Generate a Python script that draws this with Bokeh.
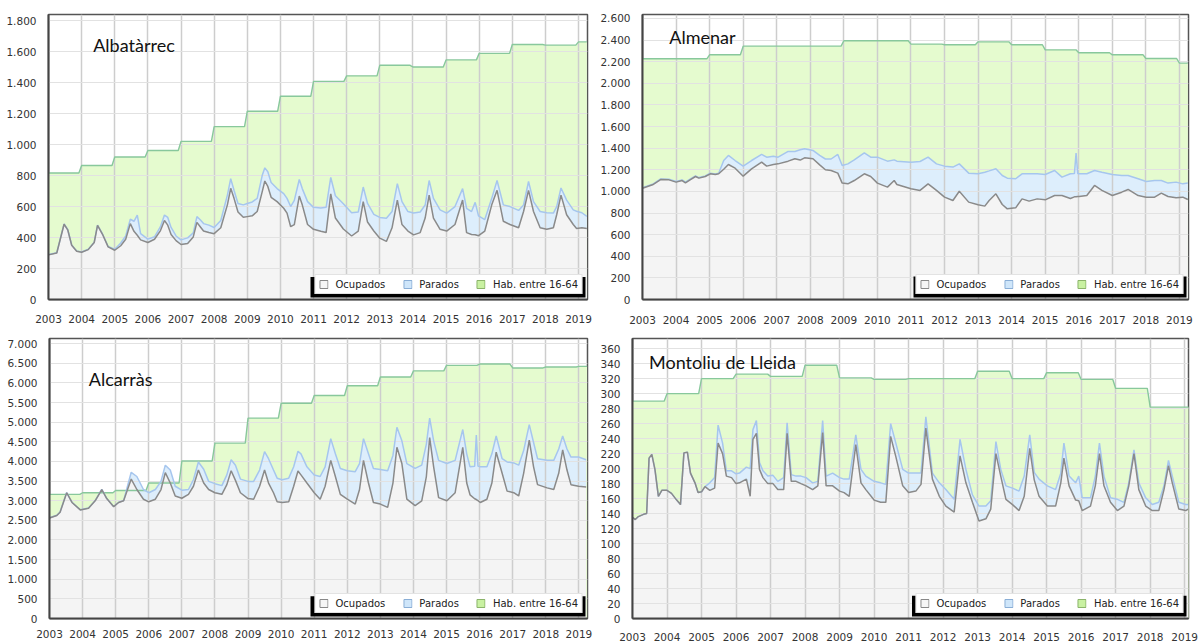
import numpy as np
from bokeh.plotting import figure
from bokeh.models import Range1d, FixedTicker, Legend, LegendItem, Label, BoxAnnotation
from bokeh.layouts import row, column
from bokeh.embed import file_html
from bokeh.resources import INLINE

years = list(range(2003, 2020))
legend_labels = ["Ocupados", "Parados", "Hab. entre 16-64"]

# ---------------- Albatàrrec ----------------
alb_hab = [817, 865, 920, 962, 1021, 1116, 1215, 1312, 1408, 1444, 1512, 1501, 1547, 1589, 1646, 1642, 1663]
alb_x = [2003.00, 2003.25, 2003.47, 2003.58, 2003.70, 2003.85,
         2004.00, 2004.20, 2004.38, 2004.48, 2004.63, 2004.80,
         2005.00, 2005.18, 2005.33, 2005.47, 2005.58, 2005.68, 2005.78,
         2006.00, 2006.20, 2006.38, 2006.50, 2006.60, 2006.70, 2006.85,
         2007.00, 2007.20, 2007.37, 2007.48, 2007.58, 2007.68, 2007.84,
         2008.00, 2008.20, 2008.40, 2008.50, 2008.60, 2008.72, 2008.88,
         2009.00, 2009.15, 2009.30, 2009.45, 2009.53, 2009.62, 2009.72, 2009.90,
         2010.10, 2010.20, 2010.31, 2010.42, 2010.57, 2010.66, 2010.82,
         2011.00, 2011.22, 2011.38, 2011.52, 2011.66, 2011.90,
         2012.15, 2012.35, 2012.50, 2012.63, 2012.82,
         2013.00, 2013.20, 2013.37, 2013.53, 2013.67, 2013.85,
         2014.02, 2014.22, 2014.37, 2014.49, 2014.62, 2014.82,
         2015.02, 2015.27, 2015.50, 2015.62, 2015.77, 2015.88, 2015.98,
         2016.17, 2016.38, 2016.54, 2016.73, 2016.93,
         2017.19, 2017.34, 2017.49, 2017.64, 2017.84,
         2018.04, 2018.24, 2018.34, 2018.47, 2018.64, 2018.84, 2018.94,
         2019.10, 2019.25]
alb_ocup = [288, 300, 486, 450, 350, 312,
            305, 322, 368, 478, 421, 340,
            318, 347, 389, 490, 440, 415, 385,
            368, 389, 445, 510, 480, 420, 380,
            355, 362, 404, 498, 470, 442, 432,
            425, 463, 611, 718, 653, 565, 531,
            535, 540, 568, 695, 765, 730, 660, 632,
            589, 558, 470, 484, 668, 611, 484,
            453, 440, 432, 682, 526, 455,
            410, 442, 632, 500, 442,
            396, 375, 463, 642, 484, 442,
            417, 432, 526, 674, 526, 453,
            442, 484, 642, 432, 420, 418, 412,
            442, 611, 705, 505, 484,
            463, 568, 705, 568, 463,
            453, 463, 547, 674, 547, 484, 459,
            463, 459]
alb_par = [2, 2, 2, 2, 2, 2,
           2, 2, 2, 2, 2, 2,
           7, 18, 21, 28, 65, 130, 40,
           22, 16, 25, 35, 50, 45, 30,
           30, 36, 26, 37, 45, 48, 48,
           40, 47, 63, 62, 52, 55, 80,
           85, 90, 85, 105, 85, 95, 95, 84,
           95, 95, 130, 156, 107, 105, 148,
           142, 150, 163, 106, 144, 163,
           150, 123, 94, 120, 108,
           134, 150, 105, 106, 148, 126,
           141, 133, 84, 94, 127, 126,
           116, 116, 74, 157, 148, 209, 128,
           74, 42, 63, 106, 116,
           112, 42, 57, 64, 105,
           107, 95, 53, 46, 95, 95, 111,
           97, 78]

# ---------------- Almenar ----------------
alm_hab = [2227, 2227, 2264, 2344, 2344, 2344, 2394, 2394, 2363, 2357, 2384, 2357, 2310, 2283, 2264, 2230, 2187]
alm_x = [2003.00, 2003.30, 2003.54, 2003.79,
         2004.00, 2004.18, 2004.28, 2004.43, 2004.58, 2004.68, 2004.87,
         2005.02, 2005.17, 2005.27, 2005.42, 2005.56, 2005.76,
         2006.00, 2006.25, 2006.55, 2006.70, 2006.90,
         2007.04, 2007.34, 2007.54, 2007.70, 2007.83,
         2008.08, 2008.28, 2008.45, 2008.62, 2008.82, 2008.95,
         2009.12, 2009.31, 2009.61, 2009.80,
         2010.00, 2010.30, 2010.50, 2010.58,
         2011.00, 2011.27, 2011.51, 2011.76,
         2012.00, 2012.25, 2012.44, 2012.72,
         2013.00, 2013.20, 2013.33, 2013.53, 2013.72, 2013.87,
         2014.12, 2014.31, 2014.52, 2014.76,
         2015.00, 2015.28, 2015.50, 2015.75, 2015.87, 2015.92, 2015.97,
         2016.01, 2016.24, 2016.47, 2016.69,
         2017.00, 2017.28, 2017.47, 2017.77,
         2018.01, 2018.26, 2018.46, 2018.66, 2018.90,
         2019.10, 2019.25]
alm_ocup = [1030, 1061, 1110, 1107,
            1086, 1101, 1080, 1110, 1138, 1123, 1138,
            1163, 1157, 1163, 1205, 1249, 1215,
            1141, 1209, 1271, 1234, 1249,
            1255, 1280, 1302, 1290, 1311,
            1302, 1246, 1200, 1194, 1169, 1077,
            1070, 1101, 1163, 1138,
            1077, 1040, 1101, 1064,
            1024, 1009, 1070, 1009,
            947, 916, 1002, 901,
            876, 864, 916, 978, 879, 839,
            848, 931, 910, 931,
            922, 962, 962, 935, 950, 950, 952,
            953, 962, 1055, 1009,
            962, 993, 1018, 962,
            947, 947, 984, 953, 941,
            947, 925]
alm_par = [5, 5, 5, 5,
           5, 5, 5, 5, 5, 5, 5,
           5, 5, 5, 81, 84, 71,
           93, 77, 71, 83, 77,
           62, 90, 68, 95, 83,
           77, 87, 100, 106, 173, 163,
           185, 191, 194, 179,
           240, 240, 191, 216,
           247, 268, 247, 246,
           287, 309, 253, 268,
           287, 314, 274, 231, 268, 284,
           269, 232, 253, 232,
           235, 232, 170, 228, 215, 404, 213,
           210, 201, 139, 169,
           195, 154, 129, 155,
           145, 154, 117, 124, 145,
           123, 152]

# ---------------- Alcarràs ----------------
alc_hab = [3162, 3203, 3261, 3450, 4012, 4466, 5102, 5481, 5679, 5927, 6150, 6307, 6447, 6480, 6381, 6406, 6422]
alc_x = [2003.00, 2003.22, 2003.32, 2003.52, 2003.68, 2003.93,
         2004.18, 2004.38, 2004.58, 2004.73, 2004.94,
         2005.09, 2005.24, 2005.47, 2005.64, 2005.84,
         2006.00, 2006.20, 2006.37, 2006.50, 2006.65, 2006.80,
         2007.00, 2007.20, 2007.35, 2007.50, 2007.66, 2007.81,
         2008.00, 2008.21, 2008.36, 2008.49, 2008.62, 2008.77,
         2009.00, 2009.17, 2009.35, 2009.50, 2009.62, 2009.77, 2009.88,
         2010.03, 2010.23, 2010.38, 2010.51, 2010.60, 2010.78,
         2011.00, 2011.18, 2011.33, 2011.50, 2011.64, 2011.79,
         2012.00, 2012.24, 2012.37, 2012.49, 2012.64, 2012.79,
         2013.00, 2013.22, 2013.38, 2013.50, 2013.65, 2013.80,
         2014.05, 2014.25, 2014.39, 2014.49, 2014.61, 2014.76,
         2015.01, 2015.26, 2015.49, 2015.61, 2015.71, 2015.85, 2015.90, 2015.95,
         2016.02, 2016.22, 2016.37, 2016.50, 2016.68, 2016.83,
         2017.03, 2017.18, 2017.33, 2017.50, 2017.63, 2017.75,
         2018.04, 2018.24, 2018.39, 2018.51, 2018.64, 2018.76, 2018.99,
         2019.22]
alc_ocup = [2559, 2625, 2708, 3203, 2955, 2765,
            2807, 2997, 3285, 3054, 2848,
            2955, 2997, 3550, 3285, 3038,
            2972, 3038, 3285, 3715, 3450, 3120,
            3063, 3162, 3368, 3781, 3450, 3285,
            3203, 3162, 3409, 3764, 3517, 3203,
            3054, 3038, 3368, 3781, 3450, 3203, 2972,
            2955, 2972, 3368, 3756, 3657, 3450,
            3203, 3038, 3368, 4028, 3616, 3162,
            3038, 2914, 3285, 4028, 3450, 2955,
            2914, 2831, 3450, 4359, 3946, 3038,
            2873, 2997, 3616, 4606, 3863, 3079,
            2997, 3203, 4359, 3450, 3150, 3050, 3030, 3000,
            2955, 3038, 3450, 4235, 3698, 3244,
            3203, 3120, 3698, 4540, 3863, 3409,
            3327, 3285, 3698, 4293, 3781, 3409, 3368,
            3351]
alc_par = [5, 5, 5, 5, 5, 5,
           5, 5, 5, 5, 5,
           5, 5, 173, 331, 247,
           231, 247, 207, 190, 331, 248,
           206, 123, 165, 206, 350, 207,
           231, 222, 248, 281, 388, 347,
           438, 454, 413, 470, 620, 578, 602,
           578, 602, 495, 504, 537, 413,
           454, 578, 495, 553, 578, 660,
           726, 825, 661, 553, 744, 867,
           883, 933, 702, 512, 578, 908,
           949, 908, 825, 496, 661, 949,
           949, 825, 454, 744, 713, 830, 1642, 880,
           908, 825, 744, 413, 372, 743,
           759, 785, 578, 396, 619, 661,
           701, 743, 619, 355, 536, 702, 743,
           694]

# ---------------- Montoliu de Lleida ----------------
mon_hab = [290, 300, 320, 326, 323, 338, 321, 319, 320, 320, 330, 320, 328, 319, 307, 282, 282]
mon_x = [2003.00, 2003.08, 2003.17, 2003.32, 2003.41, 2003.48, 2003.56, 2003.65, 2003.75, 2003.85,
         2004.00, 2004.13, 2004.28, 2004.39, 2004.49, 2004.59, 2004.68, 2004.81, 2004.90,
         2005.00, 2005.10, 2005.24, 2005.38, 2005.48, 2005.61, 2005.72, 2005.87,
         2006.00, 2006.10, 2006.30, 2006.41, 2006.49, 2006.59, 2006.68, 2006.78, 2006.92,
         2007.07, 2007.21, 2007.38, 2007.48, 2007.60, 2007.74, 2007.88,
         2008.03, 2008.22, 2008.37, 2008.51, 2008.61, 2008.80,
         2009.00, 2009.13, 2009.28, 2009.47, 2009.62, 2009.76,
         2010.00, 2010.19, 2010.34, 2010.48, 2010.63, 2010.83,
         2011.00, 2011.21, 2011.36, 2011.50, 2011.69, 2011.89,
         2012.08, 2012.32, 2012.49, 2012.66, 2012.85,
         2013.04, 2013.24, 2013.38, 2013.53, 2013.67, 2013.82,
         2014.01, 2014.20, 2014.35, 2014.51, 2014.64, 2014.78,
         2015.02, 2015.26, 2015.41, 2015.50, 2015.65, 2015.84, 2015.93,
         2016.03, 2016.27, 2016.41, 2016.53, 2016.66, 2016.85,
         2017.05, 2017.24, 2017.38, 2017.53, 2017.67, 2017.87,
         2018.06, 2018.25, 2018.40, 2018.53, 2018.64, 2018.83,
         2019.03, 2019.10]
mon_ocup = [135, 132, 136, 139, 140, 214, 219, 199, 163, 171,
            171, 167, 158, 152, 221, 222, 194, 181, 168,
            169, 176, 171, 174, 234, 220, 190, 188,
            180, 181, 186, 163, 239, 247, 199, 188, 180,
            180, 172, 172, 247, 183, 183, 180,
            177, 172, 177, 248, 177, 177,
            170, 168, 163, 232, 181, 172,
            158, 155, 155, 243, 216, 177,
            168, 170, 179, 254, 186, 163,
            150, 142, 217, 181, 155,
            130, 133, 146, 220, 190, 159,
            152, 144, 163, 227, 185, 163,
            150, 150, 181, 214, 177, 158, 157,
            144, 150, 177, 220, 177, 155,
            144, 150, 177, 220, 172, 150,
            144, 144, 172, 204, 181, 146,
            144, 146]
mon_par = [0, 0, 0, 0, 0, 0, 0, 0, 0, 0,
           0, 0, 0, 0, 0, 0, 0, 0, 0,
           0, 0, 10, 14, 24, 14, 7, 9,
           13, 13, 16, 37, 13, 17, 9, 9, 10,
           11, 11, 16, 14, 9, 7, 10,
           11, 9, 6, 16, 13, 17,
           18, 18, 23, 13, 18, 18,
           25, 26, 24, 17, 18, 22,
           26, 24, 15, 15, 8, 18,
           22, 17, 22, 18, 10,
           20, 17, 11, 16, 9, 18,
           22, 26, 27, 18, 10, 23,
           27, 22, 13, 20, 13, 23, 33,
           17, 11, 13, 14, 13, 6,
           15, 5, 4, 5, 9, 11,
           8, 11, 5, 7, 9, 9,
           8, 6]

GREY_FILL, GREY_LINE = "#f4f4f4", "#8a8a8a"
BLUE_FILL, BLUE_LINE = "#ddeefc", "#a6c6ee"
GREEN_FILL, GREEN_LINE = "#e5fbcf", "#88c89c"
TICK_FONT = "DejaVu Sans"

# legend geometry (screen px)
LEG_MARGIN, LEG_W, LEG_H, SHADOW = 5, 275, 21, 3


def fmt(v):
    return f"{v:,}".replace(",", ".")


def panel(w, h, borders, xend, ymax, ystep, hab, x, ocup, par, title, tx, ty, xstand):
    p = figure(width=w, height=h, x_range=Range1d(2003, xend), y_range=Range1d(0, ymax),
               output_backend="svg", toolbar_location=None,
               min_border_left=borders[0], min_border_right=borders[1],
               min_border_top=borders[2], min_border_bottom=borders[3],
               background_fill_color="white", border_fill_color="white")
    months = np.arange(196)
    hx = 2003 + months / 12
    hy = np.array(hab, dtype=float)[months // 12]
    xa = np.array(x, dtype=float)
    oc = np.array(ocup, dtype=float)
    ac = oc + np.array(par, dtype=float)

    p.varea(x=hx, y1=0, y2=hy, fill_color=GREEN_FILL, level="image")
    p.varea(x=xa, y1=oc, y2=ac, fill_color=BLUE_FILL, level="image")
    p.varea(x=xa, y1=0, y2=oc, fill_color=GREY_FILL, level="image")
    p.line(hx, hy, line_color=GREEN_LINE, line_width=1.4)
    p.line(xa, ac, line_color=BLUE_LINE, line_width=1.5)
    p.line(xa, oc, line_color=GREY_LINE, line_width=1.5)

    # grid
    yt = list(range(0, int(ymax) + 1, ystep))
    p.xgrid.ticker = FixedTicker(ticks=years)
    p.ygrid.ticker = FixedTicker(ticks=yt)
    p.xgrid.grid_line_color = "#cdcdcd"
    p.xgrid.grid_line_width = 1.5
    p.ygrid.grid_line_color = "#e2e2e2"
    p.ygrid.grid_line_width = 1
    p.xgrid.level = "underlay"
    p.ygrid.level = "underlay"

    # axes
    p.yaxis.ticker = FixedTicker(ticks=yt)
    p.yaxis.major_label_overrides = {t: fmt(t) for t in yt}
    p.xaxis.ticker = FixedTicker(ticks=years)
    p.xaxis.major_label_overrides = {y: str(y) for y in years}
    for ax in (p.xaxis, p.yaxis):
        ax.axis_line_color = "#444444"
        ax.axis_line_width = 2
        ax.major_tick_line_color = None
        ax.minor_tick_line_color = None
        ax.major_label_text_font = TICK_FONT
        ax.major_label_text_font_size = "10.5px"
        ax.major_label_text_color = "#333333"
    p.yaxis.major_label_standoff = 6
    p.xaxis.major_label_standoff = xstand
    p.outline_line_color = "#555555"
    p.outline_line_width = 1.5

    # legend swatches: renderers whose single box lies outside the visible x range
    off = [1990.0]
    g1 = p.quad(left=off, right=off, bottom=[0], top=[0], fill_color="#f6f6f6", line_color="#888888")
    g2 = p.quad(left=off, right=off, bottom=[0], top=[0], fill_color="#cfe6fa", line_color="#8aaed6")
    g3 = p.quad(left=off, right=off, bottom=[0], top=[0], fill_color="#c9f1a2", line_color="#8bb36a")

    # drop shadow behind the legend box
    fw = w - borders[0] - borders[1]
    fh = h - borders[2] - borders[3]
    sx = (xend - 2003) / fw
    sy = ymax / fh
    p.add_layout(BoxAnnotation(left=xend - (LEG_MARGIN + LEG_W - SHADOW) * sx,
                               right=xend - (LEG_MARGIN - SHADOW) * sx,
                               bottom=(LEG_MARGIN - SHADOW) * sy,
                               top=(LEG_MARGIN + LEG_H - SHADOW) * sy,
                               fill_color="#000000", fill_alpha=1.0, line_alpha=0))

    leg = Legend(items=[LegendItem(label=l, renderers=[r]) for l, r in zip(legend_labels, [g1, g2, g3])],
                 orientation="horizontal", location="bottom_right", margin=LEG_MARGIN,
                 padding=3, spacing=17, label_standoff=7, glyph_width=10, glyph_height=10,
                 label_height=12, label_text_font=TICK_FONT, label_text_font_size="10px",
                 label_text_color="#222222", border_line_color="#c8c8c8", border_line_width=1,
                 background_fill_color="#ffffff", background_fill_alpha=1.0)
    p.add_layout(leg)

    p.add_layout(Label(x=tx, y=ty, text=title, text_font="Lato", text_font_size="18px",
                       text_color="#111111", text_baseline="alphabetic", text_align="left"))
    return p


p1 = panel(597, 330, (48, 10, 13, 26), 2019.27, 1840, 200, alb_hab, alb_x, alb_ocup, alb_par,
           "Albatàrrec", 2004.35, 1644, 9)
p2 = panel(602, 330, (41, 11, 14, 31), 2019.27, 2637, 200, alm_hab, alm_x, alm_ocup, alm_par,
           "Almenar", 2003.80, 2427, 10)
p3 = panel(597, 313, (49, 10, 8, 17), 2019.26, 7131, 500, alc_hab, alc_x, alc_ocup, alc_par,
           "Alcarràs", 2004.19, 6091, 5)
p4 = panel(602, 313, (34, 11, 8, 23), 2019.11, 373.6, 20, mon_hab, mon_x, mon_ocup, mon_par,
           "Montoliu de Lleida", 2003.48, 342, 8)

layout = column(row(p1, p2), row(p3, p4))
open("out.html", "w").write(file_html(layout, INLINE))
